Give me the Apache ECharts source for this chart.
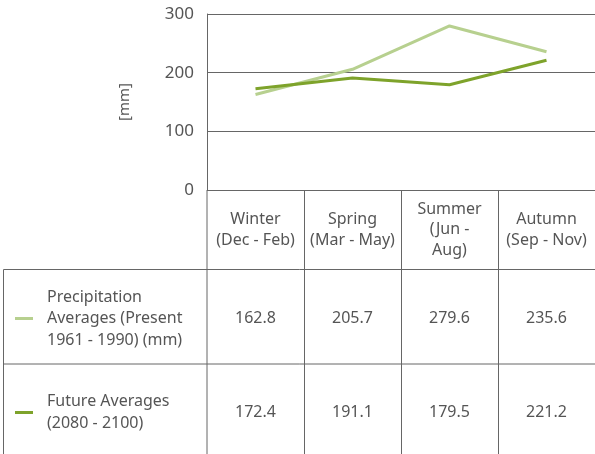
<!DOCTYPE html>
<html>
<head>
<meta charset="utf-8">
<script src="https://cdn.jsdelivr.net/npm/echarts@6/dist/echarts.min.js"></script>
<style>
html,body{margin:0;padding:0;background:#fff;}
#c{width:595px;height:454px;}
</style>
</head>
<body>
<div id="c"></div>
<script>
const categories = ['Winter\n(Dec - Feb)', 'Spring\n(Mar - May)', 'Summer\n(Jun -\nAug)', 'Autumn\n(Sep - Nov)'];
const presentValues = [162.8, 205.7, 279.6, 235.6];
const futureValues = [172.4, 191.1, 179.5, 221.2];
const seriesNames = ['Precipitation\nAverages (Present\n1961 - 1990) (mm)', 'Future Averages\n(2080 - 2100)'];
const seriesColors = ['#b7d08f', '#7ea32b'];
const yMin = 0, yMax = 300, yInterval = 100;
const yName = '[mm]';

const FONT = '"Noto Sans", sans-serif';
const TXT = '#555555';
const GRID = '#666666';

const chart = echarts.init(document.getElementById('c'), null, {renderer: 'canvas'});
chart.setOption({
  animation: false,
  grid: {left: 207, top: 14, width: 390, height: 176},
  xAxis: {
    type: 'category', data: categories, boundaryGap: true,
    axisLine: {show: false}, axisTick: {show: false}, axisLabel: {show: false}
  },
  yAxis: {
    type: 'value', min: yMin, max: yMax, interval: yInterval,
    name: yName, nameLocation: 'middle', nameRotate: 90, nameGap: 75,
    nameTextStyle: {fontFamily: FONT, fontSize: 15, color: TXT},
    axisLine: {show: true, lineStyle: {color: GRID, width: 1}},
    axisTick: {show: false},
    axisLabel: {fontFamily: FONT, fontSize: 17, color: TXT, margin: 13},
    splitLine: {lineStyle: {color: GRID, width: 1}}
  },
  series: [
    {name: seriesNames[0], type: 'line', data: presentValues, symbol: 'none',
     lineStyle: {color: seriesColors[0], width: 3}, itemStyle: {color: seriesColors[0]}},
    {name: seriesNames[1], type: 'line', data: futureValues, symbol: 'none',
     lineStyle: {color: seriesColors[1], width: 3}, itemStyle: {color: seriesColors[1]}}
  ]
});

// Build the data table below the chart from the axis geometry
const centers = categories.map((c, i) => chart.convertToPixel({xAxisIndex: 0}, i));
const half = (centers[1] - centers[0]) / 2;
const plotLeft = centers[0] - half;
const plotRight = centers[centers.length - 1] + half;
const y0 = chart.convertToPixel({yAxisIndex: 0}, yMin);
const headerBottom = 269.5;
const rowHeights = [94, 94];
const rowTops = [headerBottom, headerBottom + rowHeights[0]];
const tableLeft = 3.5;
const H = 454;
const lineStyle = {stroke: GRID, lineWidth: 1};
const g = [];
g.push({type: 'line', shape: {x1: plotLeft, y1: y0, x2: plotLeft, y2: H}, style: lineStyle, silent: true});
for (let i = 1; i < centers.length; i++) {
  const x = Math.round(centers[i] - half) + 0.5;
  g.push({type: 'line', shape: {x1: x, y1: y0, x2: x, y2: H}, style: lineStyle, silent: true});
}
g.push({type: 'line', shape: {x1: tableLeft, y1: headerBottom, x2: tableLeft, y2: H}, style: lineStyle, silent: true});
g.push({type: 'line', shape: {x1: tableLeft, y1: headerBottom, x2: plotRight, y2: headerBottom}, style: lineStyle, silent: true});
g.push({type: 'line', shape: {x1: tableLeft, y1: rowTops[1] + 0.5, x2: plotRight, y2: rowTops[1] + 0.5}, style: lineStyle, silent: true});
const headerCenterY = (y0 + headerBottom) / 2;
categories.forEach((c, i) => {
  g.push({type: 'text', silent: true, style: {
    text: c, x: centers[i], y: headerCenterY, align: 'center', verticalAlign: 'middle',
    font: '16px ' + FONT, fill: TXT, lineHeight: 20.5}});
});
const rows = [presentValues, futureValues];
rows.forEach((vals, r) => {
  const cy = rowTops[r] + rowHeights[r] / 2 + 2;
  g.push({type: 'line', silent: true, shape: {x1: 15, y1: cy, x2: 33, y2: cy},
    style: {stroke: seriesColors[r], lineWidth: 3}});
  g.push({type: 'text', silent: true, style: {
    text: seriesNames[r], x: 47, y: cy, align: 'left', verticalAlign: 'middle',
    font: '16px ' + FONT, fill: TXT, lineHeight: 21.5}});
  vals.forEach((v, i) => {
    g.push({type: 'text', silent: true, style: {
      text: v.toFixed(1), x: centers[i], y: cy, align: 'center', verticalAlign: 'middle',
      font: '16px ' + FONT, fill: TXT}});
  });
});
chart.setOption({graphic: g});
</script>
</body>
</html>
